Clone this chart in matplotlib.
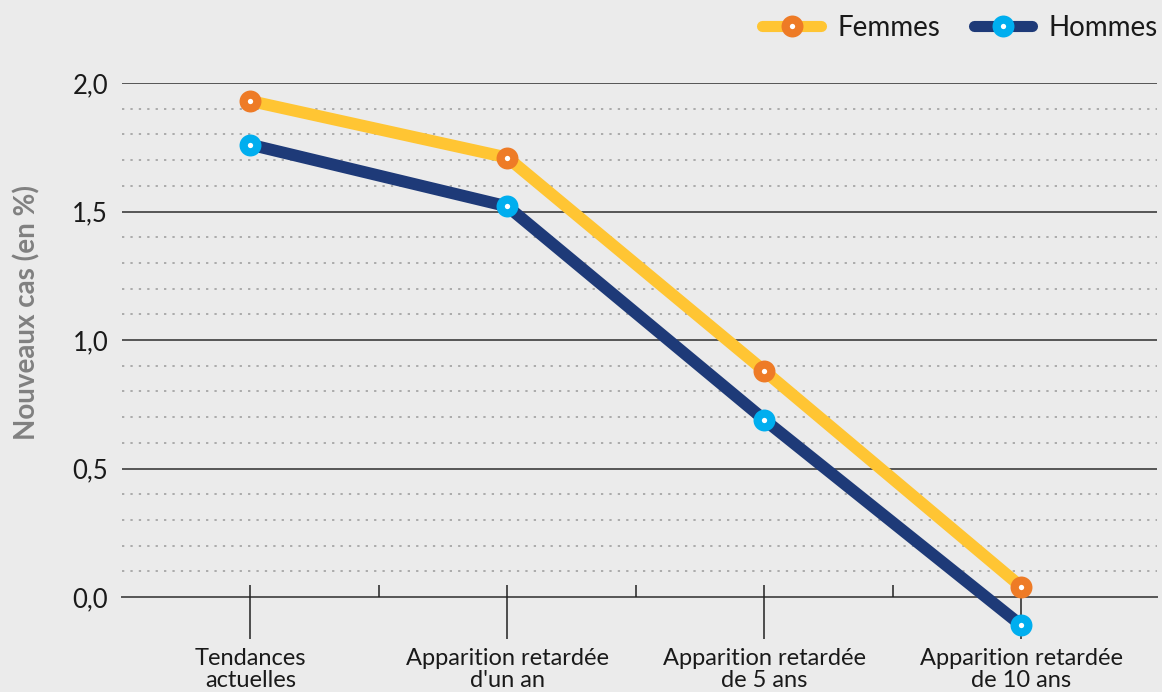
import matplotlib
matplotlib.use("Agg")
from matplotlib import pyplot as plt
from matplotlib.lines import Line2D
from matplotlib.ticker import FixedLocator
import numpy as np

plt.rcParams['font.family'] = ['Lato', 'DejaVu Sans']

CATEGORIES = ['Tendances\nactuelles', 'Apparition retardée\nd\'un an',
              'Apparition retardée\nde 5 ans', 'Apparition retardée\nde 10 ans']
FEMMES = [1.93, 1.71, 0.88, 0.04]
HOMMES = [1.76, 1.52, 0.69, -0.11]
Y_TICKS = [0.0, 0.5, 1.0, 1.5, 2.0]

BG = '#ebebeb'
YELLOW = '#ffc533'
ORANGE = '#ee7b26'
NAVY = '#1e3a78'
CYAN = '#00aeef'

fig = plt.figure(figsize=(11.62, 6.92), dpi=100, facecolor=BG)
ax = fig.add_axes([0.105, 0.0816, 0.891, 0.7984], facecolor=BG)

x = np.arange(len(CATEGORIES))
ax.set_xlim(-0.5, 3.53)
ax.set_ylim(-0.15, 2.0)

# grid: solid every 0.5, dotted every 0.1
for v in np.arange(0.1, 2.0, 0.1):
    if abs(v * 2 - round(v * 2)) > 1e-6:
        ax.axhline(v, color='#9a9a9a', lw=1.1, ls=(0, (1.5, 4)), zorder=1)
for v in Y_TICKS[1:]:
    ax.axhline(v, color='#555555', lw=1.4, zorder=1)

for s in ['top', 'right', 'left']:
    ax.spines[s].set_visible(False)
ax.spines['bottom'].set_position(('data', 0))
ax.spines['bottom'].set_color('#555555')
ax.spines['bottom'].set_linewidth(1.4)
ax.spines['bottom'].set_zorder(1)

ax.xaxis.set_major_locator(FixedLocator(x))
ax.xaxis.set_minor_locator(FixedLocator(np.arange(0, 3.01, 0.5)))
ax.xaxis.remove_overlapping_locs = False
ax.set_xticklabels(CATEGORIES, linespacing=1.05)
ax.tick_params(axis='x', which='major', direction='out', length=30, width=1.1,
               color='#222222', labelsize=17, pad=7, labelcolor='#1a1a1a')
ax.tick_params(axis='x', which='minor', direction='in', length=8.5, width=1.1,
               color='#222222')

ax.set_yticks(Y_TICKS)
ax.set_yticklabels([('%.1f' % v).replace('.', ',') for v in Y_TICKS])
ax.tick_params(axis='y', length=0, labelsize=18.5, pad=10, labelcolor='#1a1a1a')
ax.set_ylabel('Nouveaux cas (en %)', fontsize=20, fontweight='bold', color='#808080')
ax.yaxis.set_label_coords(-0.079, 0.585)

lw = 8.6
ax.plot(x, HOMMES, color=NAVY, lw=lw, solid_joinstyle='round', zorder=3, clip_on=False)
ax.plot(x, FEMMES, color=YELLOW, lw=lw, solid_joinstyle='round', zorder=3, clip_on=False)
ax.plot(x, HOMMES, ls='none', marker='o', ms=15.8, mew=0, mfc=CYAN, zorder=4, clip_on=False)
ax.plot(x, FEMMES, ls='none', marker='o', ms=15.8, mew=0, mfc=ORANGE, zorder=4, clip_on=False)
ax.plot(x, HOMMES, ls='none', marker='o', ms=3.8, mew=0, mfc='white', zorder=5, clip_on=False)
ax.plot(x, FEMMES, ls='none', marker='o', ms=3.8, mew=0, mfc='white', zorder=5, clip_on=False)

def handle(lc, mc):
    return (Line2D([], [], color=lc, lw=8, solid_capstyle='round'),
            Line2D([], [], ls='none', marker='o', ms=15.8, mew=0, mfc=mc),
            Line2D([], [], ls='none', marker='o', ms=3.8, mew=0, mfc='white'))

fig.legend([handle(YELLOW, ORANGE), handle(NAVY, CYAN)], ['Femmes', 'Hommes'],
           loc='center right', bbox_to_anchor=(1.006, 1 - 28 / 692), ncol=2,
           frameon=False, fontsize=20, handlelength=2.1, handletextpad=0.6,
           columnspacing=1.2, borderaxespad=0.0, labelcolor='#1a1a1a')

plt.savefig('out.png', dpi=100, facecolor=BG)
